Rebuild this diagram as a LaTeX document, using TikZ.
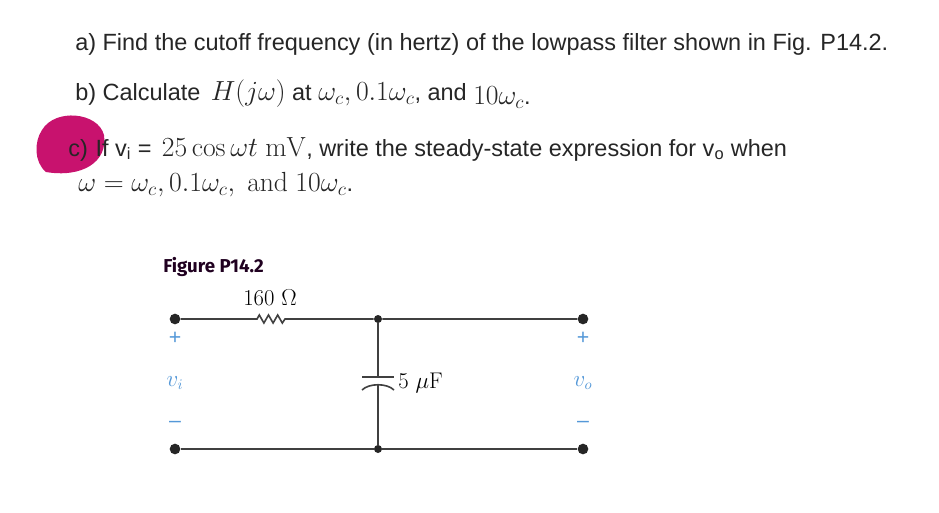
\documentclass[tikz,border=0pt]{standalone}
\usepackage[no-math]{fontspec}
\setmainfont{Liberation Sans}
\newfontfamily\lmr{Latin Modern Roman}
\newfontfamily\fignum{Fira Sans}
\newcommand{\Mth}[1]{{\fontsize{20}{22}\selectfont$#1$}}
\definecolor{blob}{HTML}{C8126E}
\begin{document}
\begin{tikzpicture}[x=0.75pt,y=-0.75pt,
  qtext/.style={anchor=base west,inner sep=0,text=black!85,font=\fontsize{17.6}{20}\selectfont},
  lab/.style={inner sep=0,text=cyan!60!blue!70,font=\fontsize{16}{18}\selectfont},
  val/.style={inner sep=0,font=\lmr\fontsize{17}{19}\selectfont},
  wire/.style={line width=1.2pt,black!75},
  term/.style={circle,fill=black!85,inner sep=0,minimum size=8pt},
  jn/.style={circle,fill=black!85,inner sep=0,minimum size=6pt}]
\useasboundingbox[fill=white] (0,0) rectangle (939,512);
\node[qtext] (qa) at (75,50) {a) Find the cutoff frequency (in hertz) of the lowpass filter shown in Fig. P14.2.};
\node[qtext] (qb) at (75,100) {b) Calculate \,\Mth{H(j\omega)} at \Mth{\omega_c, 0.1\omega_c}, and \raisebox{-3pt}{\Mth{10\omega_c}.}};
\fill[blob] (42,130) .. controls (55,108) and (98,112) .. (104,135) .. controls (108,162) and (82,178) .. (46,172) .. controls (34,162) and (34,142) .. (42,130) -- cycle;
\node[qtext] (qc) at (68,156) {c)\,\,If v\textsubscript{i} = \,\Mth{25\cos\omega t\ \mathrm{mV}}, write the steady-state expression for v\textsubscript{o} when};
\node[qtext] (qd) at (78,191) {\Mth{\omega=\omega_c, 0.1\omega_c,\ \mathrm{and}\ 10\omega_c}.};
\node[anchor=base west,inner sep=0,text=black!75!violet,font=\fignum\fontsize{14}{16}\selectfont\bfseries] (fig) at (163,272) {Figure P14.2};
% circuit
\node[term] (a1) at (175,319) {};
\node[term] (a2) at (175,449) {};
\node[jn] (m1) at (378,319) {};
\node[jn] (m2) at (378,449) {};
\node[term] (b1) at (583,319) {};
\node[term] (b2) at (583,449) {};
\coordinate (r1) at (257,319);
\coordinate (r2) at (285,319);
\coordinate (c1) at (378,377);
\draw[wire] (a1) -- (r1) -- ++(2.3,-4) -- ++(4.6,8) -- ++(4.6,-8) -- ++(4.6,8) -- ++(4.6,-8) -- ++(4.6,8) -- (r2) -- (m1) -- (b1);
\draw[wire] (a2) -- (m2) -- (b2);
\draw[wire] (m1) -- (c1);
\draw[wire] (362,377) -- (394,377);
\draw[wire] (362,390) .. controls (369,383) and (387,383) .. (394,390);
\draw[wire] (378,384.5) -- (m2);
\node[val] (rl) at (270,298) {160 $\Omega$};
\node[val,anchor=west] (cl) at (398,383) {5 $\mu$F};
\node[lab] (p1) at (175,338) {+};
\node[lab] (vi) at (175,383) {$v_i$};
\node[lab] (n1) at (175,424) {--};
\node[lab] (p2) at (583,338) {+};
\node[lab] (vo) at (583,383) {$v_o$};
\node[lab] (n2) at (583,424) {--};
\end{tikzpicture}
\end{document}
